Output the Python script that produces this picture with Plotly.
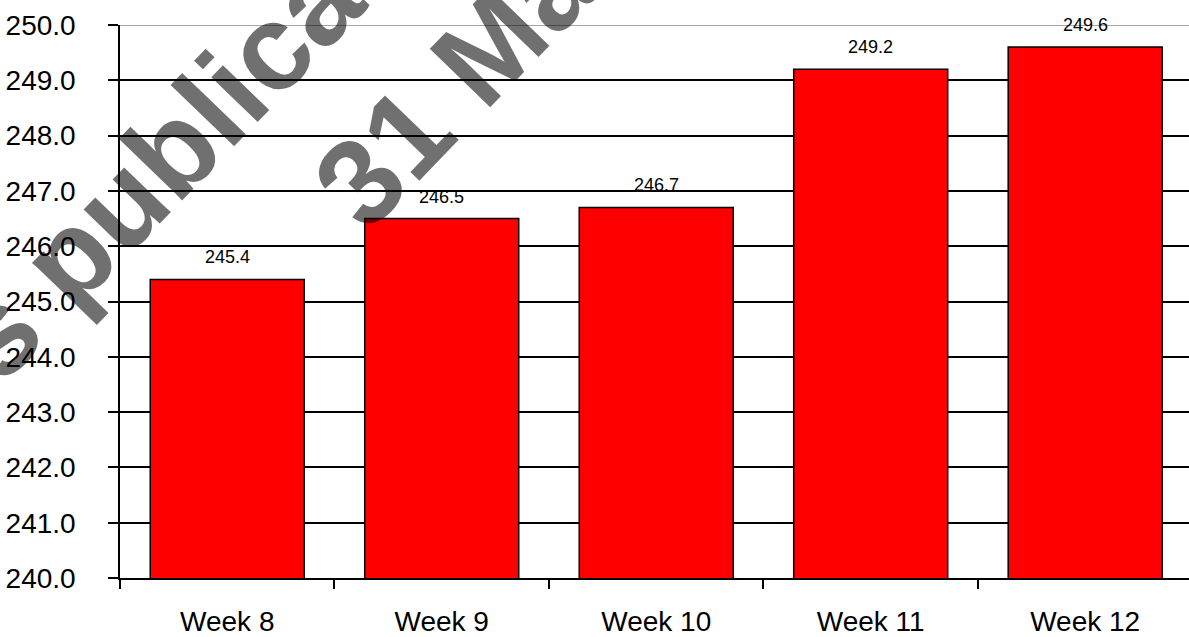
import plotly.graph_objects as go

categories = ["Week 8", "Week 9", "Week 10", "Week 11", "Week 12"]
values = [245.4, 246.5, 246.7, 249.2, 249.6]
y_ticks = [240, 241, 242, 243, 244, 245, 246, 247, 248, 249, 250]
watermark_lines = ["s publication", "31 March"]

W, H = 1189, 637
ML, MR, MT, MB = 120, 0, 25, 57
PW, PH = W - ML - MR, H - MT - MB

def px_to_paper(px, py):
    return (px - ML) / PW, (H - MB - py) / PH

fig = go.Figure()
fig.add_trace(go.Bar(
    x=categories, y=values,
    marker=dict(color="#FF0000", line=dict(color="black", width=1.5)),
    hoverinfo="skip",
))

for c, v in zip(categories, values):
    fig.add_annotation(x=c, y=v, xref="x", yref="y", text=f"{v:.1f}",
                       showarrow=False, yanchor="bottom", yshift=10,
                       font=dict(family="Liberation Sans, Arial", size=18, color="black"))

# watermark
wm_centers = [(233, 87), (520, 16)]
for t, (cx, cy) in zip(watermark_lines, wm_centers):
    x, y = px_to_paper(cx, cy)
    fig.add_annotation(x=x, y=y, xref="paper", yref="paper", text=t, showarrow=False,
                       textangle=-46, xanchor="center", yanchor="middle",
                       font=dict(family="Liberation Sans, Arial", size=122, color="rgba(0,0,0,0.56)",
                                 weight="bold"))

fig.add_shape(type="line", xref="paper", x0=0, x1=1, yref="y", y0=250, y1=250,
              line=dict(color="#a6a6a6", width=2), layer="above")

fig.update_layout(
    width=W, height=H,
    margin=dict(l=ML, r=MR, t=MT, b=MB, pad=0),
    paper_bgcolor="white", plot_bgcolor="white",
    bargap=0.282, showlegend=False,
    font=dict(family="Liberation Sans, Arial", color="black"),
    xaxis=dict(type="category", categoryorder="array", categoryarray=categories,
               range=[-0.5, 4.484], showline=True, linecolor="black", linewidth=1.5,
               ticks="outside", tickson="boundaries", ticklen=9, tickwidth=1.5, tickcolor="black",
               showgrid=False, tickfont=dict(size=28), ticklabelstandoff=18, fixedrange=True),
    yaxis=dict(range=[240, 250], tickvals=y_ticks, tickformat=".1f",
               showline=True, linecolor="black", linewidth=1.5,
               ticks="outside", ticklen=10, tickwidth=1.5, tickcolor="black",
               showgrid=True, gridcolor="black", gridwidth=1.5, zeroline=False,
               tickfont=dict(size=28), ticklabelstandoff=27, fixedrange=True),
)

fig.write_html("out.html", config={"displayModeBar": False})
